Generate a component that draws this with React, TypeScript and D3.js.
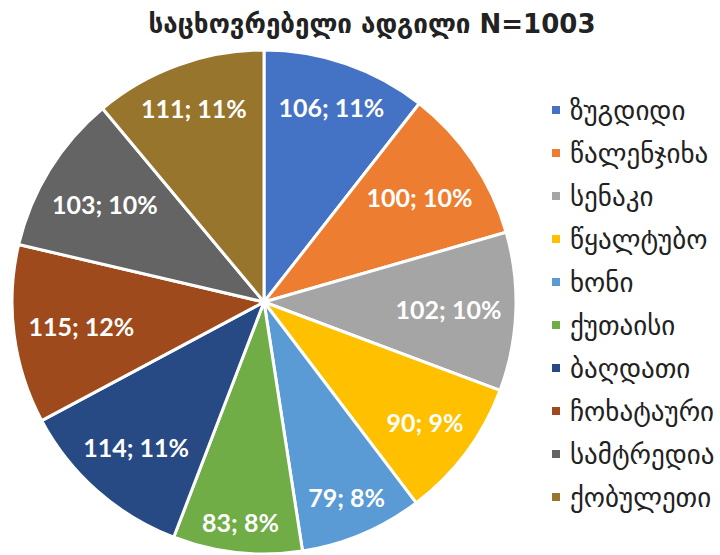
import React from "react";
import * as d3 from "d3";

const categories = ["ზუგდიდი", "წალენჯიხა", "სენაკი", "წყალტუბო", "ხონი", "ქუთაისი", "ბაღდათი", "ჩოხატაური", "სამტრედია", "ქობულეთი"];
const values = [106, 100, 102, 90, 79, 83, 114, 115, 103, 111];
const colors = ["#4472C4", "#ED7D31", "#A5A5A5", "#FFC000", "#5B9BD5", "#70AD47", "#284A84", "#9F4A1C", "#646464", "#98752C"];
const title = "საცხოვრებელი ადგილი N=1003";

function roundedPercents(vals: number[]): number[] {
  const total = d3.sum(vals);
  const raw = vals.map((v) => (v / total) * 100);
  const fl = raw.map((r) => Math.floor(r));
  let rest = 100 - d3.sum(fl);
  const order = d3.range(vals.length).sort((a, b) => (raw[b] - fl[b]) - (raw[a] - fl[a]));
  for (let k = 0; k < order.length && rest > 0; k++, rest--) fl[order[k]] += 1;
  return fl;
}

const LABEL_FONT = "bold 25px Lato, 'Open Sans', sans-serif";

function measure(text: string): number {
  if (typeof document === "undefined") return text.length * 13;
  const c = document.createElement("canvas").getContext("2d");
  if (!c) return text.length * 13;
  c.font = LABEL_FONT;
  return c.measureText(text).width;
}

// Best-fit: largest radius along the slice's mid-angle so that the label box stays inside the pie
function fitRadius(angle: number, hw: number, hh: number, limit: number): number {
  const dx = Math.sin(angle), dy = -Math.cos(angle);
  const sx = Math.sign(dx) || 1, sy = Math.sign(dy) || 1;
  let lo = 0, hi = limit;
  for (let k = 0; k < 40; k++) {
    const r = (lo + hi) / 2;
    const fx = r * dx + sx * hw, fy = r * dy + sy * hh;
    if (Math.hypot(fx, fy) <= limit) lo = r; else hi = r;
  }
  return lo;
}

export default function App() {
  const W = 720, H = 555;
  const cx = 264, cy = 302, R = 252;
  const pcts = roundedPercents(values);
  const pie = d3.pie<number>().sort(null).value((d) => d);
  const arcs = pie(values);
  const arc = d3.arc<d3.PieArcDatum<number>>().innerRadius(0).outerRadius(R);
  const legendY = d3.scaleLinear().domain([0, categories.length - 1]).range([110, 497]);
  return (
    <svg width={W} height={H} style={{ position: "absolute", left: 0, top: 0 }}>
      <rect width={W} height={H} fill="#fff" />
      <text x={372} y={33} textAnchor="middle" fontFamily="DejaVu Sans, sans-serif" fontWeight="bold" fontSize={26} fill="#222">
        {title}
      </text>
      <g transform={`translate(${cx},${cy})`}>
        {arcs.map((a, i) => (
          <path key={i} d={arc(a) || ""} fill={colors[i]} stroke="#fff" strokeWidth={3} strokeLinejoin="round" />
        ))}
        {arcs.map((a, i) => {
          const label = `${values[i]}; ${pcts[i]}%`;
          const mid = (a.startAngle + a.endAngle) / 2;
          const w = measure(label);
          const r = fitRadius(mid, w / 2, 10, R - 14);
          const x = r * Math.sin(mid), y = -r * Math.cos(mid);
          return (
            <text key={i} x={x} y={y} textAnchor="middle" dominantBaseline="central" fontFamily="Lato, Open Sans, sans-serif" fontWeight="bold" fontSize={25} fill="#fff">
              {label}
            </text>
          );
        })}
      </g>
      <g>
        {categories.map((c, i) => (
          <g key={i} transform={`translate(552,${legendY(i)})`}>
            <rect x={0} y={-4} width={8} height={8} fill={colors[i]} />
            <text x={18} y={0} dominantBaseline="central" fontFamily="DejaVu Sans, sans-serif" fontSize={27} fill="#222">
              {c}
            </text>
          </g>
        ))}
      </g>
    </svg>
  );
}
